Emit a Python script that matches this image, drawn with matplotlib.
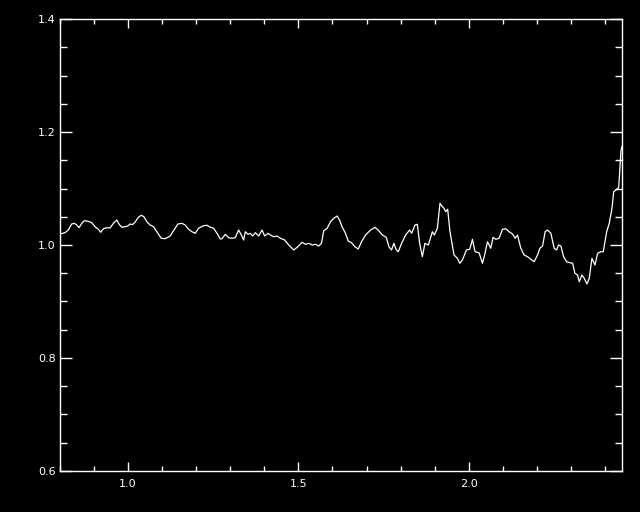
import matplotlib
matplotlib.use('Agg')
import matplotlib.pyplot as plt
from matplotlib.ticker import MultipleLocator, FormatStrFormatter

# trace
wave = [0.8000, 0.8147, 0.8244, 0.8344, 0.8421, 0.8491, 0.8559, 0.8638, 0.8715, 0.8832,
        0.8932, 0.9029, 0.9126, 0.9197, 0.9274, 0.9374, 0.9471, 0.9568, 0.9668, 0.9735,
        0.9815, 0.9912, 0.9991, 1.0059, 1.0126, 1.0206, 1.0303, 1.0382, 1.0462, 1.0550,
        1.0647, 1.0744, 1.0844, 1.0971, 1.1088, 1.1235, 1.1332, 1.1462, 1.1579, 1.1676,
        1.1774, 1.1874, 1.1971, 1.2068, 1.2215, 1.2315, 1.2412, 1.2509, 1.2609, 1.2706,
        1.2756, 1.2853, 1.2950, 1.3050, 1.3147, 1.3244, 1.3324, 1.3391, 1.3441, 1.3521,
        1.3588, 1.3656, 1.3735, 1.3832, 1.3932, 1.4009, 1.4109, 1.4176, 1.4274, 1.4374,
        1.4471, 1.4597, 1.4715, 1.4862, 1.4962, 1.5109, 1.5206, 1.5303, 1.5403, 1.5500,
        1.5597, 1.5676, 1.5744, 1.5844, 1.5941, 1.6038, 1.6138, 1.6206, 1.6285, 1.6382,
        1.6462, 1.6559, 1.6656, 1.6756, 1.6853, 1.6971, 1.7118, 1.7244, 1.7344, 1.7462,
        1.7579, 1.7656, 1.7735, 1.7803, 1.7874, 1.7932, 1.8029, 1.8147, 1.8265, 1.8324,
        1.8421, 1.8491, 1.8559, 1.8638, 1.8715, 1.8815, 1.8932, 1.8991, 1.9079, 1.9156,
        1.9226, 1.9274, 1.9324, 1.9382, 1.9450, 1.9568, 1.9668, 1.9735, 1.9815, 1.9932,
        2.0029, 2.0109, 2.0185, 2.0303, 2.0403, 2.0479, 2.0550, 2.0647, 2.0715, 2.0794,
        2.0891, 2.0991, 2.1088, 2.1185, 2.1285, 2.1362, 2.1432, 2.1529, 2.1626, 2.1726,
        2.1824, 2.1921, 2.2021, 2.2088, 2.2168, 2.2244, 2.2315, 2.2412, 2.2509, 2.2579,
        2.2638, 2.2706, 2.2785, 2.2874, 2.2971, 2.3050, 2.3118, 2.3197, 2.3244, 2.3324,
        2.3391, 2.3471, 2.3538, 2.3618, 2.3706, 2.3785, 2.3882, 2.3950, 2.4050, 2.4126,
        2.4206, 2.4256, 2.4324, 2.4403, 2.4441, 2.4471, 2.4500]
flux = [1.0195, 1.0218, 1.0265, 1.0372, 1.0384, 1.0354, 1.0306, 1.0384, 1.0430, 1.0419,
        1.0395, 1.0324, 1.0278, 1.0225, 1.0288, 1.0306, 1.0301, 1.0384, 1.0442, 1.0366,
        1.0313, 1.0324, 1.0336, 1.0372, 1.0359, 1.0407, 1.0490, 1.0526, 1.0501, 1.0412,
        1.0354, 1.0324, 1.0235, 1.0119, 1.0112, 1.0159, 1.0253, 1.0372, 1.0384, 1.0354,
        1.0278, 1.0235, 1.0207, 1.0296, 1.0342, 1.0349, 1.0313, 1.0296, 1.0207, 1.0106,
        1.0112, 1.0189, 1.0129, 1.0119, 1.0129, 1.0265, 1.0177, 1.0088, 1.0235, 1.0189,
        1.0207, 1.0159, 1.0218, 1.0159, 1.0265, 1.0159, 1.0207, 1.0177, 1.0147, 1.0159,
        1.0119, 1.0088, 1.0000, 0.9912, 0.9959, 1.0048, 1.0012, 1.0030, 1.0000, 1.0012,
        0.9982, 1.0030, 1.0253, 1.0296, 1.0412, 1.0473, 1.0513, 1.0442, 1.0319, 1.0207,
        1.0071, 1.0041, 0.9970, 0.9929, 1.0058, 1.0177, 1.0265, 1.0313, 1.0265, 1.0177,
        1.0136, 0.9970, 0.9912, 1.0030, 0.9912, 0.9881, 1.0030, 1.0177, 1.0265, 1.0207,
        1.0354, 1.0366, 1.0030, 0.9793, 1.0030, 1.0000, 1.0235, 1.0177, 1.0296, 1.0738,
        1.0678, 1.0650, 1.0589, 1.0632, 1.0235, 0.9823, 0.9765, 0.9676, 0.9735, 0.9912,
        0.9924, 1.0101, 0.9881, 0.9864, 0.9676, 0.9853, 1.0058, 0.9942, 1.0136, 1.0101,
        1.0119, 1.0278, 1.0288, 1.0235, 1.0195, 1.0119, 1.0177, 0.9942, 0.9823, 0.9793,
        0.9747, 0.9704, 0.9823, 0.9942, 0.9982, 1.0235, 1.0265, 1.0207, 0.9942, 0.9912,
        1.0000, 0.9982, 0.9793, 0.9704, 0.9687, 0.9676, 0.9499, 0.9469, 0.9350, 0.9469,
        0.9411, 0.9310, 0.9411, 0.9765, 0.9646, 0.9853, 0.9881, 0.9881, 1.0235, 1.0384,
        1.0650, 1.0943, 1.0973, 1.1021, 1.1386, 1.1681, 1.1740]

fig = plt.figure(figsize=(6.4, 5.12), dpi=100, facecolor='black')
ax = fig.add_axes([60 / 640, 41 / 512, 562 / 640, 452 / 512])
ax.set_facecolor('black')

ax.plot(wave, flux, color='white', lw=0.9)

ax.set_xlim(0.8, 2.45)
ax.set_ylim(0.6, 1.4)
ax.xaxis.set_major_locator(MultipleLocator(0.5))
ax.xaxis.set_minor_locator(MultipleLocator(0.1))
ax.yaxis.set_major_locator(MultipleLocator(0.2))
ax.yaxis.set_minor_locator(MultipleLocator(0.05))
ax.xaxis.set_major_formatter(FormatStrFormatter('%.1f'))
ax.yaxis.set_major_formatter(FormatStrFormatter('%.1f'))

for s in ax.spines.values():
    s.set_color('white')
    s.set_linewidth(1.0)

ax.tick_params(axis='both', which='both', direction='in', colors='white',
               top=True, right=True, labelsize=8, width=1.0)
ax.tick_params(axis='x', which='major', length=6.5, pad=6)
ax.tick_params(axis='x', which='minor', length=3.6)
ax.tick_params(axis='y', which='major', length=8.6, pad=3)
ax.tick_params(axis='y', which='minor', length=5)

fig.savefig('out.png', dpi=100, facecolor='black')
